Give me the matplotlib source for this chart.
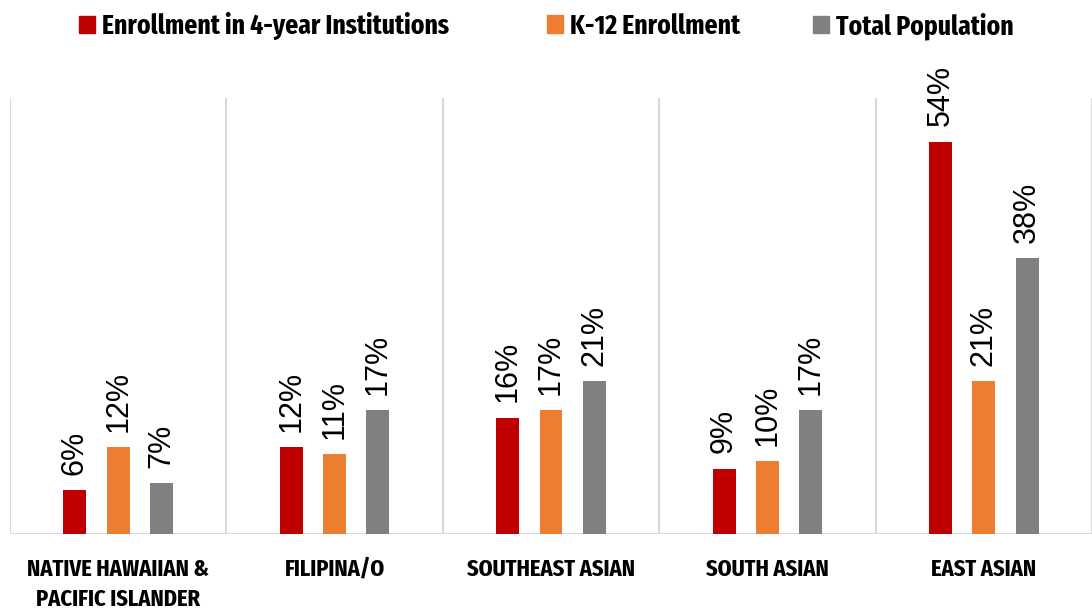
import numpy as np
import matplotlib.pyplot as plt
from matplotlib import font_manager as fm
from matplotlib.patches import Patch

# ── Données ───────────────────────────────────
categories = ['NATIVE HAWAIIAN &\nPACIFIC ISLANDER', 'FILIPINA/O',
              'SOUTHEAST ASIAN', 'SOUTH ASIAN', 'EAST ASIAN']
series_names = ['Enrollment in 4-year Institutions', 'K-12 Enrollment',
                'Total Population']
enroll_4yr = [6, 12, 16, 9, 54]
k12 = [12, 11, 17, 10, 21]
total_pop = [7, 17, 21, 17, 38]
colors = ['#c00000', '#ed7d31', '#808080']


def find_font(test):
    for f in sorted(fm.fontManager.ttflist, key=lambda f: f.fname):
        if test(f):
            return f.fname
    return None


def is_bold_file(p):
    b = p.lower().split('/')[-1]
    return 'bold' in b and 'extrabold' not in b and 'semibold' not in b \
        and 'italic' not in b and 'oblique' not in b


# police étroite grasse (titres) + sans-serif type Arial (étiquettes)
narrow = (find_font(lambda f: 'extracondensed' in f.fname.lower().replace('-', '').replace('_', '')
                    and is_bold_file(f.fname))
          or find_font(lambda f: 'condensed' in f.fname.lower() and is_bold_file(f.fname)))
arial = find_font(lambda f: 'liberationsans-regular' in f.fname.lower())


def cond(size):
    if narrow:
        return fm.FontProperties(fname=narrow, size=size)
    return fm.FontProperties(family='DejaVu Sans', weight='bold', size=size)


def lab(size):
    if arial:
        return fm.FontProperties(fname=arial, size=size)
    return fm.FontProperties(family='DejaVu Sans', size=size)


fig = plt.figure(figsize=(10.92, 6.16), dpi=100)
ax = fig.add_axes([10/1092, 1 - 534/616, 1082/1092, (534 - 98)/616])

x = np.arange(len(categories))
width = 0.106
offsets = [-0.2, 0.0, 0.2]

for vals, off, col in zip([enroll_4yr, k12, total_pop], offsets, colors):
    bars = ax.bar(x + off, vals, width, color=col, zorder=3)
    for b, v in zip(bars, vals):
        ax.annotate(f'{v}%', (b.get_x() + b.get_width()/2, b.get_height()),
                    xytext=(0, 11), textcoords='offset points',
                    rotation=90, ha='center', va='bottom',
                    fontproperties=lab(22), color='black')

ax.set_xlim(-0.5, len(categories) - 0.5)
ax.set_ylim(0, 60)

# séparateurs verticaux entre catégories
for xb in np.arange(-0.5, len(categories), 1.0):
    ax.axvline(xb, color='#d9d9d9', lw=1.5, zorder=1)
ax.axhline(0, color='#d9d9d9', lw=1.5, zorder=2)

for s in ax.spines.values():
    s.set_visible(False)
ax.set_yticks([])
ax.set_xticks(x)
ax.set_xticklabels(categories, fontproperties=cond(17.5),
                   linespacing=1.4, va='top')
ax.tick_params(axis='x', length=0, pad=17)

# légende : une entrée par série, placée comme dans l'original
legend_x = [79, 547, 813]
for name, col, lx in zip(series_names, colors, legend_x):
    fig.legend([Patch(color=col)], [name], loc='center left',
               bbox_to_anchor=(lx/1092, 1 - 26/616), frameon=False,
               prop=cond(20), borderpad=0, borderaxespad=0,
               handlelength=0.58, handleheight=0.58, handletextpad=0.26)

fig.savefig('out.png', dpi=100)
